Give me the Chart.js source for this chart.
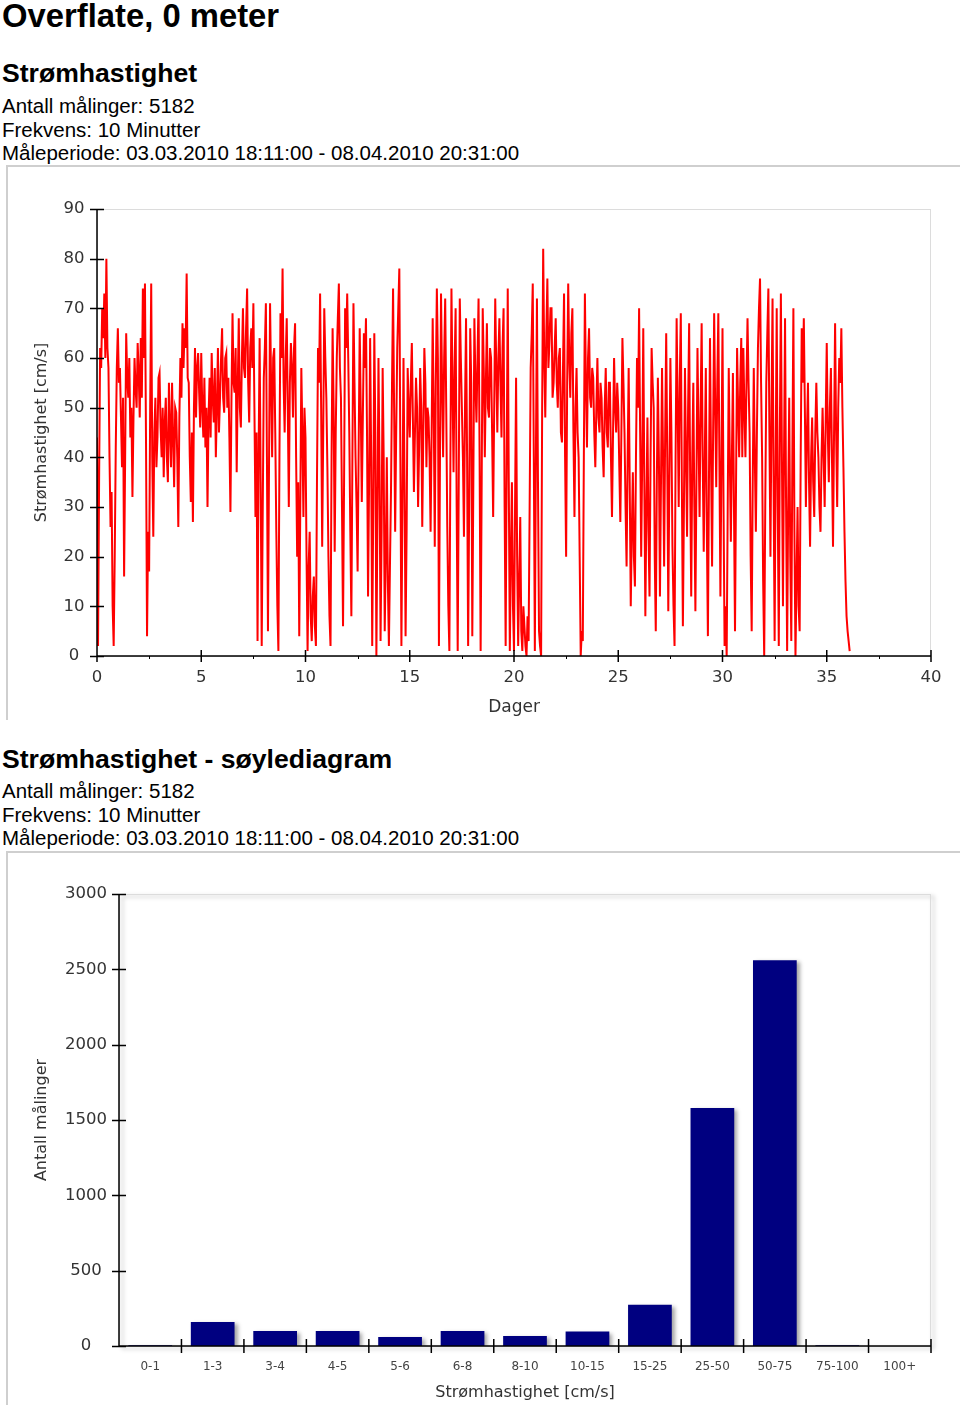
<!DOCTYPE html>
<html>
<head>
<meta charset="utf-8">
<script src="https://cdn.jsdelivr.net/npm/chart.js@4.4.1/dist/chart.umd.min.js"></script>
<style>
    body { margin: 0; width: 960px; height: 1405px; position: relative; overflow: hidden; background: #fff; color: #000; font-family: "Liberation Sans", Arial, sans-serif; }
    .txt { position: absolute; left: 2px; white-space: nowrap; }
    .h1 { font-size: 32.8px; font-weight: bold; line-height: 32px; }
    .h2 { font-size: 26.6px; font-weight: bold; line-height: 26px; }
    .info { font-size: 20.5px; line-height: 23.5px; }
    .box { position: absolute; left: 6px; width: 952px; border-top: 2px solid #cfcfcf; border-left: 2px solid #cfcfcf; }
    .box canvas { position: absolute; left: 0; top: 0; }
</style>
</head>
<body>
<div class="txt h1" style="top:0px">Overflate, 0 meter</div>

<div class="txt h2" style="top:60px">Strømhastighet</div>
<div class="txt info" style="top:94px">Antall målinger: 5182<br>Frekvens: 10 Minutter<br>Måleperiode: 03.03.2010 18:11:00 - 08.04.2010 20:31:00</div>
<div class="box" style="top:165px; height:553px"><canvas id="speedChart" width="950" height="551"></canvas></div>

<div class="txt h2" style="top:746px">Strømhastighet - søylediagram</div>
<div class="txt info" style="top:779px">Antall målinger: 5182<br>Frekvens: 10 Minutter<br>Måleperiode: 03.03.2010 18:11:00 - 08.04.2010 20:31:00</div>
<div class="box" style="top:851px; height:554px"><canvas id="barChart" width="950" height="552"></canvas></div>

<script>
// Current speed [cm/s], every 0.05 day (one row per day)
const dayStep = 0.05;
const speedValues = [
    44, 2, 35, 62, 58, 70, 64, 73, 60, 80, 62, 58, 40, 26, 33, 10, 2, 20, 42, 58,
    66, 55, 58, 48, 38, 52, 16, 40, 65, 56, 52, 60, 44, 50, 32, 48, 60, 54, 50, 63,
    57, 48, 64, 52, 74, 60, 75, 44, 4, 25, 17, 50, 75, 40, 24, 45, 52, 38, 44, 56,
    57, 46, 40, 50, 36, 47, 52, 40, 35, 55, 46, 38, 55, 44, 34, 50, 49, 40, 26, 48,
    60, 52, 67, 58, 66, 62, 77, 56, 55, 40, 31, 45, 27, 50, 62, 48, 58, 61, 53, 46,
    61, 50, 44, 56, 42, 50, 30, 48, 56, 44, 61, 52, 47, 58, 40, 50, 62, 45, 52, 60,
    66, 52, 49, 60, 61, 50, 56, 44, 29, 52, 69, 55, 53, 62, 37, 54, 68, 50, 46, 60,
    70, 58, 56, 66, 74, 55, 47, 62, 66, 58, 71, 50, 28, 45, 3, 40, 64, 35, 2, 30,
    56, 62, 71, 40, 5, 38, 71, 55, 40, 60, 62, 45, 25, 10, 1, 40, 69, 60, 78, 55,
    45, 60, 68, 50, 30, 55, 63, 58, 48, 62, 67, 40, 20, 35, 4, 30, 58, 45, 28, 50,
    44, 20, 1, 18, 25, 8, 3, 12, 16, 6, 2, 35, 62, 55, 73, 50, 22, 45, 70, 60,
    52, 38, 20, 8, 2, 40, 66, 50, 21, 45, 60, 68, 75, 58, 52, 30, 6, 35, 70, 62,
    73, 60, 45, 25, 8, 40, 71, 55, 40, 30, 17, 42, 66, 50, 31, 48, 65, 58, 68, 45,
    12, 35, 64, 40, 2, 30, 65, 45, 0, 28, 60, 38, 3, 25, 58, 40, 5, 20, 40, 15,
    2, 18, 33, 55, 74, 50, 25, 45, 62, 70, 78, 40, 2, 30, 60, 35, 4, 25, 58, 50,
    44, 55, 63, 48, 33, 45, 56, 50, 30, 42, 58, 50, 26, 45, 62, 55, 38, 50, 48, 40,
    25, 45, 68, 50, 22, 55, 74, 60, 2, 40, 73, 55, 40, 60, 72, 50, 26, 10, 1, 40,
    74, 55, 37, 58, 70, 30, 1, 35, 72, 60, 50, 40, 24, 50, 68, 40, 2, 30, 66, 55,
    4, 35, 68, 55, 47, 60, 72, 40, 1, 35, 70, 58, 40, 55, 67, 50, 48, 62, 60, 45,
    28, 50, 72, 58, 45, 60, 68, 55, 44, 62, 70, 30, 2, 40, 74, 35, 1, 20, 35, 10,
    1, 30, 56, 20, 2, 15, 28, 5, 1, 10, 6, 2, 0, 8, 3, 30, 58, 65, 75, 40,
    1, 40, 72, 35, 5, 2, 0, 50, 82, 60, 48, 65, 76, 58, 63, 70, 70, 52, 55, 62,
    68, 55, 50, 60, 62, 45, 43, 58, 73, 40, 20, 55, 75, 60, 52, 65, 70, 45, 28, 50,
    58, 45, 40, 20, 0, 5, 3, 40, 73, 55, 42, 60, 66, 52, 50, 58, 56, 45, 38, 50,
    60, 48, 45, 55, 52, 42, 36, 50, 58, 45, 42, 55, 55, 40, 28, 45, 60, 50, 45, 55,
    50, 38, 27, 45, 64, 55, 45, 30, 18, 40, 58, 35, 10, 25, 37, 20, 14, 40, 60, 50,
    70, 45, 20, 40, 66, 35, 8, 30, 48, 25, 12, 40, 62, 55, 50, 20, 5, 35, 56, 40,
    12, 35, 58, 40, 18, 45, 65, 40, 9, 35, 60, 45, 22, 10, 2, 40, 68, 50, 30, 55,
    69, 35, 6, 30, 58, 40, 24, 50, 67, 35, 12, 40, 55, 30, 9, 35, 62, 45, 28, 50,
    67, 40, 21, 40, 58, 25, 4, 35, 64, 40, 18, 45, 69, 50, 34, 55, 69, 40, 12, 40,
    66, 30, 2, 10, 0, 30, 58, 40, 23, 40, 57, 30, 5, 35, 62, 50, 40, 55, 64, 40,
    62, 50, 40, 55, 68, 55, 45, 20, 5, 35, 58, 40, 25, 45, 62, 70, 76, 55, 40, 15,
    0, 30, 55, 65, 74, 45, 20, 50, 72, 35, 3, 40, 70, 30, 2, 45, 73, 40, 10, 40,
    68, 30, 1, 30, 52, 20, 3, 40, 70, 25, 0, 15, 30, 10, 5, 40, 66, 55, 68, 50,
    30, 45, 55, 35, 22, 40, 48, 35, 28, 45, 55, 45, 40, 30, 25, 40, 50, 40, 30, 48,
    63, 45, 35, 50, 58, 40, 22, 45, 67, 45, 30, 50, 60, 55, 66, 50, 38, 25, 15, 8,
    5, 3, 1
];
const dayTicks = { min: 0, max: 40, step: 5 };
const speedTicks = { min: 0, max: 90, step: 10 };

// Histogram
const speedBins = ['0-1', '1-3', '3-4', '4-5', '5-6', '6-8', '8-10', '10-15', '15-25', '25-50', '50-75', '75-100', '100+'];
const binCounts = [5, 160, 99, 99, 59, 99, 66, 96, 273, 1579, 2560, 5, 0];
const countTicks = { min: 0, max: 3000, step: 500 };

Chart.defaults.font.family = '"DejaVu Sans", Verdana, sans-serif';
Chart.defaults.color = '#333';
Chart.defaults.animation = false;

// Frame + black axes with ticks crossing the axis line
const axesPlugin = {
    id: 'axes',
    beforeDatasetsDraw(chart) {
        const { ctx, chartArea: a } = chart;
        ctx.save();
        ctx.strokeStyle = '#dcdcdc';
        ctx.lineWidth = 1;
        ctx.strokeRect(a.left + 0.5, a.top + 0.5, a.right - a.left - 1, a.bottom - a.top);
        ctx.restore();
    },
    afterDraw(chart, args, opts) {
        const { ctx, chartArea: a, scales: { x, y } } = chart;
        ctx.save();
        ctx.strokeStyle = '#000';
        ctx.lineWidth = 1.5;
        ctx.beginPath();
        ctx.moveTo(a.left, a.top);
        ctx.lineTo(a.left, a.bottom);
        ctx.lineTo(a.right, a.bottom);
        y.ticks.forEach(t => {
            const py = Math.round(y.getPixelForValue(t.value)) + 0.5;
            ctx.moveTo(a.left - 7, py);
            ctx.lineTo(a.left + 7, py);
        });
        if (opts.category) {
            for (let i = 1; i <= speedBins.length; i++) {
                const px = x.getPixelForValue(i - 0.5);
                ctx.moveTo(px, a.bottom - 7);
                ctx.lineTo(px, a.bottom + 7);
            }
        } else {
            x.ticks.forEach(t => {
                const px = x.getPixelForValue(t.value);
                ctx.moveTo(px, a.bottom - 6);
                ctx.lineTo(px, a.bottom + 6);
            });
        }
        ctx.stroke();
        if (!opts.category) {
            ctx.lineWidth = 1;
            ctx.beginPath();
            for (let v = dayTicks.min + dayTicks.step / 2; v < dayTicks.max; v += dayTicks.step) {
                const px = Math.round(x.getPixelForValue(v)) + 0.5;
                ctx.moveTo(px, a.bottom);
                ctx.lineTo(px, a.bottom + 3);
            }
            ctx.stroke();
        }
        ctx.restore();
    }
};

// Soft shadow behind bars
const shadowPlugin = {
    id: 'barShadow',
    beforeDatasetsDraw(chart) {
        const ctx = chart.ctx;
        ctx.save();
        ctx.shadowColor = 'rgba(0, 0, 0, 0.35)';
        ctx.shadowBlur = 4;
        ctx.shadowOffsetX = 3;
        ctx.shadowOffsetY = 2;
    },
    afterDatasetsDraw(chart) {
        chart.ctx.restore();
    }
};

document.addEventListener('DOMContentLoaded', function() {
    initializeCharts();
});

function initializeCharts() {
    const speedCtx = document.getElementById('speedChart');
    new Chart(speedCtx, {
        type: 'line',
        data: {
            datasets: [{
                data: speedValues.map((v, i) => ({ x: i * dayStep, y: v })),
                borderColor: '#ff0000',
                borderWidth: 2,
                pointRadius: 0,
                tension: 0,
                fill: false
            }]
        },
        options: {
            responsive: false,
            layout: { padding: { top: 42, right: 27, left: 0, bottom: 0 } },
            plugins: { legend: { display: false }, tooltip: { enabled: false }, axes: { category: false } },
            scales: {
                x: {
                    type: 'linear',
                    min: dayTicks.min,
                    max: dayTicks.max,
                    grid: { display: false, drawTicks: false },
                    border: { display: false },
                    ticks: { stepSize: dayTicks.step, padding: 12, font: { size: 16.5 }, maxRotation: 0 },
                    title: { display: true, text: 'Dager', font: { size: 17 }, padding: { top: 0, bottom: 0 } },
                    afterFit(scale) { scale.height = 62; }
                },
                y: {
                    min: speedTicks.min,
                    max: speedTicks.max,
                    grid: { display: false, drawTicks: false },
                    border: { display: false },
                    ticks: { stepSize: speedTicks.step, padding: 12.5, crossAlign: 'center', font: { size: 16.5 } },
                    title: { display: true, text: 'Strømhastighet [cm/s]', font: { size: 16 }, padding: { top: 24, bottom: 0 } },
                    afterFit(scale) { scale.width = 89; }
                }
            }
        },
        plugins: [axesPlugin]
    });

    const barCtx = document.getElementById('barChart');
    new Chart(barCtx, {
        type: 'bar',
        data: {
            labels: speedBins,
            datasets: [{
                data: binCounts,
                backgroundColor: '#000080',
                borderWidth: 0,
                barPercentage: 0.7,
                categoryPercentage: 1
            }]
        },
        options: {
            responsive: false,
            layout: { padding: { top: 41, right: 27, left: 0, bottom: 0 } },
            plugins: { legend: { display: false }, tooltip: { enabled: false }, axes: { category: true } },
            scales: {
                x: {
                    grid: { display: false, drawTicks: false },
                    border: { display: false },
                    ticks: { padding: 14, font: { size: 12 }, color: '#444', maxRotation: 0, autoSkip: false },
                    title: { display: true, text: 'Strømhastighet [cm/s]', font: { size: 16 }, padding: { top: 0, bottom: 3 } },
                    afterFit(scale) { scale.height = 59; }
                },
                y: {
                    min: countTicks.min,
                    max: countTicks.max,
                    grid: { display: false, drawTicks: false },
                    border: { display: false },
                    ticks: { stepSize: countTicks.step, padding: 12, crossAlign: 'center', font: { size: 16.5 }, format: { useGrouping: false } },
                    title: { display: true, text: 'Antall målinger', font: { size: 16 }, padding: { top: 24, bottom: 0 } },
                    afterFit(scale) { scale.width = 111; }
                }
            }
        },
        plugins: [shadowPlugin, axesPlugin]
    });
}
</script>
</body>
</html>
